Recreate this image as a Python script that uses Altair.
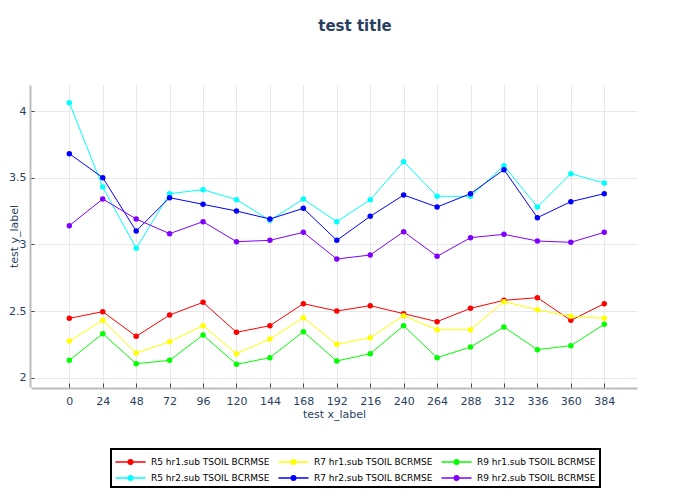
import altair as alt
import pandas as pd

# ---- data ----
x_hours = [0, 24, 48, 72, 96, 120, 144, 168, 192, 216, 240, 264, 288, 312, 336, 360, 384]

r5_hr1 = [2.445, 2.495, 2.31, 2.47, 2.565, 2.34, 2.39, 2.555, 2.50, 2.54, 2.48, 2.42, 2.52, 2.58, 2.60, 2.43, 2.555]
r7_hr1 = [2.275, 2.43, 2.185, 2.27, 2.39, 2.18, 2.29, 2.45, 2.25, 2.30, 2.465, 2.36, 2.36, 2.57, 2.51, 2.46, 2.445]
r9_hr1 = [2.13, 2.33, 2.105, 2.13, 2.32, 2.10, 2.15, 2.345, 2.125, 2.18, 2.39, 2.15, 2.23, 2.38, 2.21, 2.24, 2.40]
r5_hr2 = [4.0625, 3.43, 2.97, 3.38, 3.41, 3.335, 3.18, 3.34, 3.17, 3.335, 3.62, 3.36, 3.36, 3.59, 3.28, 3.53, 3.46]
r7_hr2 = [3.68, 3.50, 3.10, 3.35, 3.30, 3.25, 3.19, 3.27, 3.03, 3.21, 3.37, 3.28, 3.38, 3.56, 3.20, 3.32, 3.38]
r9_hr2 = [3.14, 3.34, 3.19, 3.08, 3.17, 3.02, 3.03, 3.09, 2.89, 2.92, 3.095, 2.91, 3.05, 3.075, 3.025, 3.015, 3.09]

series_names = [
    "R5 hr1.sub TSOIL BCRMSE",
    "R7 hr1.sub TSOIL BCRMSE",
    "R9 hr1.sub TSOIL BCRMSE",
    "R5 hr2.sub TSOIL BCRMSE",
    "R7 hr2.sub TSOIL BCRMSE",
    "R9 hr2.sub TSOIL BCRMSE",
]
series_values = [r5_hr1, r7_hr1, r9_hr1, r5_hr2, r7_hr2, r9_hr2]
series_colors = ["#ff0000", "#ffff00", "#00ff00", "#00ffff", "#0000ff", "#8000ff"]

# legend fills column by column (2 rows x 3 columns)
legend_order = [0, 3, 1, 4, 2, 5]
legend_names = [series_names[i] for i in legend_order]
legend_colors = [series_colors[i] for i in legend_order]

x_ticks = x_hours
y_ticks = [2, 2.5, 3, 3.5, 4]

rows = []
for name, vals in zip(series_names, series_values):
    for xv, yv in zip(x_hours, vals):
        rows.append({"x": xv, "y": yv, "series": name})
df = pd.DataFrame(rows)

FONT = "DejaVu Sans"
TXT = "#2a3f5f"

# legend symbol: short line with a dot in the middle; works stroked or filled
sym_path = ("M-1,-0.01 L2.625,-0.01 L2.625,0.01 L-1,0.01 Z "
            "M0.5025,0 A0.31,0.31 0 1,1 1.1225,0 A0.31,0.31 0 1,1 0.5025,0 Z "
            "M0.6225,0 A0.19,0.19 0 1,1 1.0025,0 A0.19,0.19 0 1,1 0.6225,0 Z "
            "M0.7425,0 A0.07,0.07 0 1,1 0.8825,0 A0.07,0.07 0 1,1 0.7425,0 Z")

legend = alt.Legend(
    title=None,
    orient="none",
    legendX=80,
    legendY=364,
    columns=3,
    symbolType=sym_path,
    symbolSize=256,
    symbolStrokeWidth=1.1,
    symbolOpacity=1,
    labelFont=FONT,
    labelFontSize=9,
    labelColor="black",
    labelOffset=18,
    columnPadding=6,
    rowPadding=2,
)

chart = alt.Chart(df).mark_line(
    strokeWidth=1,
    point=alt.OverlayMarkDef(filled=True, size=30, opacity=1),
).encode(
    x=alt.X("x:Q",
            scale=alt.Scale(domain=[-27.5, 407.5], nice=False, zero=False),
            axis=alt.Axis(values=x_ticks, title="test x_label", offset=1,
                          tickSize=alt.ExprRef("-5"), labelPadding=12,
                          titlePadding=2)),
    y=alt.Y("y:Q",
            scale=alt.Scale(domain=[1.93, 4.195], nice=False, zero=False),
            axis=alt.Axis(values=y_ticks, title="test y_label", offset=1,
                          format="~g",
                          tickSize=alt.ExprRef("-4"), labelPadding=8,
                          titleX=-11)),
    color=alt.Color("series:N",
                    scale=alt.Scale(domain=legend_names, range=legend_colors),
                    sort=legend_names, legend=legend),
    order=alt.Order("x:Q"),
).properties(
    width=606,
    height=302,
    title=alt.TitleParams("test title", font=FONT, fontSize=15, fontWeight="bold",
                          color=TXT, anchor="middle", dx=21, offset=39,
                          baseline="alphabetic"),
    autosize=alt.AutoSizeParams(type="none"),
    padding={"left": 23, "top": 77, "right": 55, "bottom": 105},
).configure_view(
    stroke=None,
).configure_legend(
    strokeColor="black",
    strokeWidth=2,
    fillColor="white",
    padding=4,
).configure_axis(
    labelFont=FONT,
    labelFontSize=11,
    labelColor=TXT,
    titleFont=FONT,
    titleFontSize=11,
    titleFontWeight="normal",
    titleColor=TXT,
    gridColor="#e8e8e8",
    gridWidth=1,
    domainColor="#bcbcbc",
    domainWidth=2,
    tickColor="#444444",
    tickWidth=1,
)

chart.save("out.html", embed_options={"renderer": "svg", "actions": False})
